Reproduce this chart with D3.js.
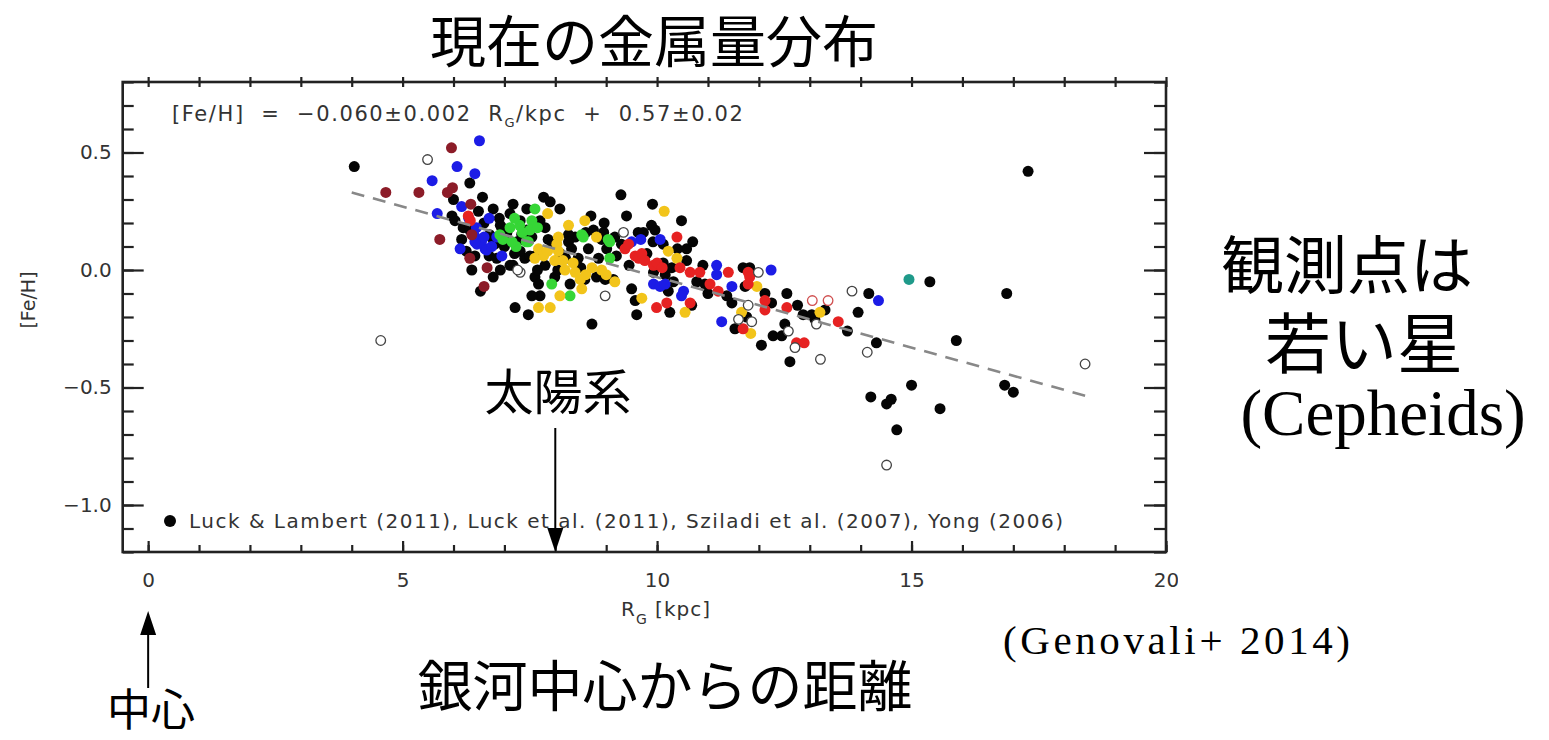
<!DOCTYPE html>
<html lang="ja">
<head>
<meta charset="utf-8">
<script src="https://cdn.jsdelivr.net/npm/d3@7"></script>
<style>
  html, body { margin: 0; padding: 0; background: #fff; }
  svg { display: block; }
  .jp { font-family: "Noto Sans CJK JP", sans-serif; fill: #000; }
  .serif { font-family: "Liberation Serif", "Times New Roman", serif; fill: #000; }
  .plot { font-family: "DejaVu Sans", sans-serif; fill: #333; }
</style>
</head>
<body>
<svg id="chart" width="1549" height="740"></svg>
<script>
// Cepheid radial metallicity gradient: [R_G (kpc), [Fe/H]]
const blackStars = [
  [4.05,0.44],[6.32,0.37],[6.00,0.30],[6.57,0.31],[6.78,0.26],[5.97,0.23],[6.03,0.21],[6.49,0.25],
  [6.19,0.18],[6.16,0.13],[7.17,0.28],[7.11,0.24],[7.44,0.26],[6.95,0.18],[7.31,0.21],[7.34,0.15],
  [6.78,0.13],[6.36,0.00],[6.78,-0.03],[6.53,-0.09],[6.81,0.11],[7.17,0.02],[7.21,-0.16],[7.47,-0.19],
  [7.77,0.31],[7.90,0.29],[8.09,0.26],[7.70,0.21],[7.80,0.18],[8.70,0.23],[8.96,0.20],[9.29,0.32],
  [9.91,0.28],[9.40,0.23],[10.48,0.21],[9.89,0.19],[9.96,0.17],[9.63,0.16],[9.73,0.16],[9.17,0.14],
  [8.39,0.14],[8.91,0.13],[8.26,0.15],[7.44,0.17],[7.54,0.14],[7.86,0.13],[8.26,0.12],[8.32,0.09],
  [8.45,0.05],[8.65,0.09],[8.85,0.05],[9.01,0.09],[9.30,0.11],[7.60,-0.03],[7.67,-0.06],[7.70,-0.11],
  [7.54,-0.11],[7.99,-0.03],[8.29,-0.06],[8.58,-0.04],[8.81,-0.03],[8.98,-0.04],[9.14,-0.04],[8.72,-0.23],
  [9.50,-0.08],[9.57,-0.13],[9.60,-0.19],[10.58,0.09],[10.58,0.04],[10.12,0.03],[10.29,0.01],[9.93,-0.01],
  [10.16,-0.02],[10.32,-0.05],[10.22,-0.09],[10.25,-0.18],[10.68,-0.15],[10.78,-0.05],[10.94,-0.06],
  [11.69,0.01],[11.82,0.01],[11.37,-0.11],[11.47,-0.14],[11.73,-0.07],[12.12,-0.10],[12.25,-0.14],
  [11.76,-0.20],[11.53,-0.25],[12.05,-0.32],[12.55,-0.10],[12.28,-0.28],[12.45,-0.28],[12.51,-0.23],
  [12.76,-0.15],[12.87,-0.19],[13.04,-0.19],[13.10,-0.21],[13.30,-0.17],[13.74,-0.26],[14.16,-0.10],
  [13.95,-0.18],[14.31,-0.31],[15.36,-0.05],[16.87,-0.10],[12.61,-0.39],[15.88,-0.30],[15.00,-0.49],
  [14.20,-0.54],[14.51,-0.57],[14.60,-0.55],[15.56,-0.59],[14.71,-0.68],[16.83,-0.49],[17.00,-0.52],
  [17.29,0.42],[6.60,0.20],[6.90,0.22],[7.00,0.10],[7.20,0.07],[7.40,0.05],[6.70,0.06],[7.05,0.16],
  [7.25,0.12],[7.60,0.06],[7.80,0.02],[7.95,0.11],[8.10,0.07],[8.60,0.16],[8.75,0.17],[8.50,0.01],
  [8.05,0.00],[9.92,0.12],[10.12,0.11],[10.40,0.09],[9.80,0.07],[6.92,0.19],[7.01,0.11],[6.71,0.15],
  [6.42,0.06],[7.31,0.08],[7.50,0.06],[7.11,0.02],[6.92,0.00],[6.32,0.17],[6.85,0.05],[7.65,0.00],
  [8.20,0.05],[8.95,0.16],[9.20,0.06],[9.45,0.02],[10.70,0.12],[10.90,0.02],[11.00,-0.10],[6.25,0.08]
];
const blueStars = [
  [6.51,0.55],[6.07,0.44],[6.42,0.41],[5.58,0.38],[5.68,0.24],[6.16,0.27],[6.70,0.22],[6.45,0.18],
  [6.52,0.13],[6.13,0.09],[6.46,0.11],[6.62,0.09],[6.55,0.12],[6.95,0.06],[6.42,0.12],[6.65,0.085],
  [6.85,0.14],[6.30,0.22],[9.50,0.12],[10.06,0.13],[9.68,0.13],[9.93,-0.06],[10.06,-0.07],[10.16,-0.06],
  [10.52,-0.09],[10.48,-0.11],[11.17,0.02],[11.17,-0.02],[11.27,-0.22],[12.24,0.00],[11.47,-0.07],[14.35,-0.13],
  [6.40,0.15],[6.60,0.14],[6.75,0.10]
];
const darkRedStars = [
  [5.96,0.52],[4.67,0.33],[5.32,0.33],[5.98,0.35],[5.88,0.33],[6.34,0.28],[6.36,0.15],[5.73,0.13],
  [6.32,0.05],[6.66,0.01],[6.60,-0.07]
];
const redStars = [
  [6.29,0.23],[6.33,0.21],[10.39,0.14],[9.37,0.09],[9.44,0.11],[9.57,0.06],[9.64,0.05],[9.70,0.07],
  [9.76,0.04],[9.93,0.02],[10.00,0.03],[10.10,0.01],[10.45,0.01],[9.99,-0.16],[10.19,-0.14],[10.65,-0.14],
  [10.65,-0.01],[10.84,-0.01],[11.04,-0.06],[11.20,-0.09],[11.40,-0.01],[11.79,-0.01],[11.82,-0.03],
  [11.79,-0.06],[12.12,-0.13],[12.12,-0.17],[11.69,-0.25],[12.55,-0.16],[12.74,-0.31],[12.89,-0.31],[13.56,-0.22]
];
const yellowStars = [
  [7.85,0.24],[8.26,0.19],[8.58,0.21],[10.14,0.25],[8.81,0.14],[8.06,0.14],[7.67,0.09],[7.77,0.06],
  [7.60,0.05],[8.03,0.11],[8.06,0.08],[7.99,0.04],[8.19,0.00],[8.39,-0.01],[8.49,-0.04],[8.72,0.01],
  [8.91,0.00],[9.17,-0.05],[8.09,-0.11],[7.67,-0.16],[7.90,-0.16],[8.52,-0.08],[9.70,-0.12],[10.22,0.08],
  [10.39,0.05],[10.55,-0.18],[11.96,-0.07],[11.66,-0.18],[11.84,-0.27],[13.20,-0.18],[8.35,0.03],[8.60,-0.02],
  [7.85,0.08],[8.15,0.04],[9.00,-0.02]
];
const greenStars = [
  [7.11,0.18],[6.91,0.15],[6.97,0.13],[7.23,0.10],[7.43,0.12],[7.60,0.26],[7.54,0.21],[8.52,0.15],
  [9.04,0.13],[7.47,0.12],[8.55,0.14],[9.07,0.12],[9.07,0.05],[7.93,-0.06],[8.29,-0.11],[7.30,0.19],
  [7.50,0.17],[7.15,0.12],[7.35,0.16],[7.20,0.22],[7.65,0.18]
];
const tealStars = [[14.95,-0.04]];
const openStars = [
  [5.49,0.47],[4.57,-0.30],[7.31,-0.01],[7.26,0.00],[8.98,-0.11],[9.34,0.16],[11.99,-0.01],[11.79,-0.15],
  [11.60,-0.21],[11.86,-0.22],[12.58,-0.26],[12.71,-0.33],[13.13,-0.23],[13.83,-0.09],[14.13,-0.35],
  [13.21,-0.38],[14.51,-0.83],[18.41,-0.40]
];
const openRedStars = [[13.05,-0.13],[13.36,-0.13]];

// Linear fit [Fe/H] = slope * R_G + intercept
const fitSlope = -0.060, fitIntercept = 0.57, fitRange = [4.0, 18.5];

const xTicks = [0, 5, 10, 15, 20];
const yTicks = [0.5, 0.0, -0.5, -1.0];
const yTickLabels = ["0.5", "0.0", "\u22120.5", "\u22121.0"];

const svg = d3.select("#chart");
const pLeft = 122.7, pRight = 1166, pTop = 82, pBottom = 552;
const x = d3.scaleLinear().domain([-0.5, 20]).range([pLeft, pRight]);
const y = d3.scaleLinear().domain([-1.2, 0.8]).range([pBottom, pTop]);

const defs = svg.append("defs");
defs.append("clipPath").attr("id", "frameClip")
  .append("rect").attr("x", pLeft).attr("y", pTop).attr("width", pRight - pLeft).attr("height", pBottom - pTop);
defs.append("clipPath").attr("id", "pageClip")
  .append("rect").attr("x", 0).attr("y", 0).attr("width", 1178).attr("height", 740);
const chart = svg.append("g").attr("clip-path", "url(#pageClip)");

// Axes: minor ticks first, then major ticks with labels
const axisColor = "#222";
function styleAxis(g) {
  g.select(".domain").remove();
  g.selectAll(".tick line").attr("stroke", axisColor).attr("stroke-width", 2.2);
}
const xMinor = d3.range(0, 21, 1), yMinor = d3.range(-12, 9).map(v => v / 10);

chart.append("g").attr("transform", `translate(0,${pBottom})`)
  .call(d3.axisBottom(x).tickValues(xMinor).tickSize(-7).tickFormat("")).call(styleAxis);
chart.append("g").attr("transform", `translate(0,${pBottom})`)
  .call(d3.axisBottom(x).tickValues(xTicks).tickSize(-11).tickPadding(21).tickFormat(d3.format("d")))
  .call(styleAxis)
  .call(g => g.selectAll("text").attr("class", "plot").style("font-size", "20px").attr("fill", "#333"));
chart.append("g").attr("transform", `translate(0,${pTop})`)
  .call(d3.axisTop(x).tickValues(xMinor).tickSizeInner(5).tickSizeOuter(0).tickFormat("")).call(styleAxis)
  .call(g => g.selectAll(".tick line").attr("y1", 5));
chart.append("g").attr("transform", `translate(${pLeft},0)`)
  .call(d3.axisLeft(y).tickValues(yMinor).tickSize(-11).tickFormat("")).call(styleAxis);
chart.append("g").attr("transform", `translate(${pLeft},0)`)
  .call(d3.axisLeft(y).tickValues(yTicks).tickSize(-21).tickPadding(11)
    .tickFormat((d, i) => yTickLabels[i]))
  .call(styleAxis)
  .call(g => g.selectAll("text").attr("class", "plot").style("font-size", "20px").attr("fill", "#333"));
chart.append("g").attr("transform", `translate(${pRight},0)`)
  .call(d3.axisRight(y).tickValues(yMinor).tickSize(-12).tickFormat("")).call(styleAxis);
chart.append("g").attr("transform", `translate(${pRight},0)`)
  .call(d3.axisRight(y).tickValues(yTicks).tickSize(-22).tickFormat("")).call(styleAxis);

// Frame
chart.append("rect").attr("x", pLeft).attr("y", pTop).attr("width", pRight - pLeft).attr("height", pBottom - pTop)
  .attr("fill", "none").attr("stroke", axisColor).attr("stroke-width", 2.6);

// Axis titles
const xTitle = chart.append("text").attr("class", "plot").attr("x", 621).attr("y", 616)
  .style("font-size", "20px").style("letter-spacing", "1px");
xTitle.append("tspan").text("R");
xTitle.append("tspan").attr("dy", 8).style("font-size", "14px").text("G");
xTitle.append("tspan").attr("dy", -8).text(" [kpc]");
chart.append("text").attr("class", "plot").attr("transform", "translate(35,300) rotate(-90)")
  .attr("text-anchor", "middle").style("font-size", "19px").text("[Fe/H]");

// Fit relation label
const eq = chart.append("text").attr("class", "plot").attr("x", 172).attr("y", 121)
  .style("font-size", "21px").style("letter-spacing", "1.6px").style("white-space", "pre");
eq.append("tspan").text("[Fe/H]  =  \u22120.060\u00b10.002  R");
eq.append("tspan").attr("dy", 6).style("font-size", "13px").text("G");
eq.append("tspan").attr("dy", -6).text("/kpc  +  0.57\u00b10.02");

// Points
const plot = chart.append("g").attr("clip-path", "url(#frameClip)");
const r = 5.5;
function dots(data, fill) {
  plot.append("g").selectAll("circle").data(data).join("circle")
    .attr("cx", d => x(d[0])).attr("cy", d => y(d[1])).attr("r", r).attr("fill", fill);
}
dots(blackStars, "#050505");
dots(blueStars, "#1c1ce6");
dots(darkRedStars, "#8c1c28");
dots(greenStars, "#36d636");
dots(yellowStars, "#f2c41a");
dots(redStars, "#e62222");
dots(tealStars, "#1f9a8a");
plot.append("g").selectAll("circle").data(openStars).join("circle")
  .attr("cx", d => x(d[0])).attr("cy", d => y(d[1])).attr("r", 4.8)
  .attr("fill", "#fff").attr("stroke", "#444").attr("stroke-width", 1.3);
plot.append("g").selectAll("circle").data(openRedStars).join("circle")
  .attr("cx", d => x(d[0])).attr("cy", d => y(d[1])).attr("r", 4.8)
  .attr("fill", "#fff").attr("stroke", "#d05050").attr("stroke-width", 1.3);

// Fit line
plot.append("line")
  .attr("x1", x(fitRange[0])).attr("y1", y(fitSlope * fitRange[0] + fitIntercept))
  .attr("x2", x(fitRange[1])).attr("y2", y(fitSlope * fitRange[1] + fitIntercept))
  .attr("stroke", "#888").attr("stroke-width", 2.6).attr("stroke-dasharray", "13,9");

// Legend
chart.append("circle").attr("cx", 170).attr("cy", 521).attr("r", 6).attr("fill", "#050505");
chart.append("text").attr("class", "plot").attr("x", 189).attr("y", 528).style("font-size", "20px")
  .style("letter-spacing", "1.5px")
  .text("Luck & Lambert (2011), Luck et al. (2011), Sziladi et al. (2007), Yong (2006)");

// Annotations
svg.append("text").attr("class", "jp").attr("x", 654).attr("y", 62).attr("text-anchor", "middle")
  .style("font-size", "56px").text("現在の金属量分布");
svg.append("text").attr("class", "jp").attr("x", 665).attr("y", 706).attr("text-anchor", "middle")
  .style("font-size", "55px").text("銀河中心からの距離");
svg.append("text").attr("class", "jp").attr("x", 1347).attr("y", 288).attr("text-anchor", "middle")
  .style("font-size", "63px").text("観測点は");
svg.append("text").attr("class", "jp").attr("x", 1364).attr("y", 368).attr("text-anchor", "middle")
  .style("font-size", "66px").text("若い星");
svg.append("text").attr("class", "serif").attr("x", 1383).attr("y", 435).attr("text-anchor", "middle")
  .style("font-size", "65px").text("(Cepheids)");
svg.append("text").attr("class", "serif").attr("x", 1003).attr("y", 654)
  .attr("textLength", 347).attr("lengthAdjust", "spacing")
  .style("font-size", "41px").text("(Genovali+ 2014)");
svg.append("text").attr("class", "jp").attr("x", 558).attr("y", 410).attr("text-anchor", "middle")
  .style("font-size", "49px").text("太陽系");
svg.append("text").attr("class", "jp").attr("x", 151).attr("y", 726).attr("text-anchor", "middle")
  .style("font-size", "44px").text("中心");

// Arrows: solar position and Galactic centre
function arrow(xp, y0, y1) {
  const dir = Math.sign(y1 - y0);
  svg.append("line").attr("x1", xp).attr("y1", y0).attr("x2", xp).attr("y2", y1 - dir * 20)
    .attr("stroke", "#000").attr("stroke-width", 2);
  svg.append("path")
    .attr("d", `M${xp},${y1} L${xp - 8},${y1 - dir * 24} L${xp + 8},${y1 - dir * 24} Z`)
    .attr("fill", "#000");
}
arrow(x(8), 428, 552);
arrow(x(0), 688, 611);
</script>
</body>
</html>
